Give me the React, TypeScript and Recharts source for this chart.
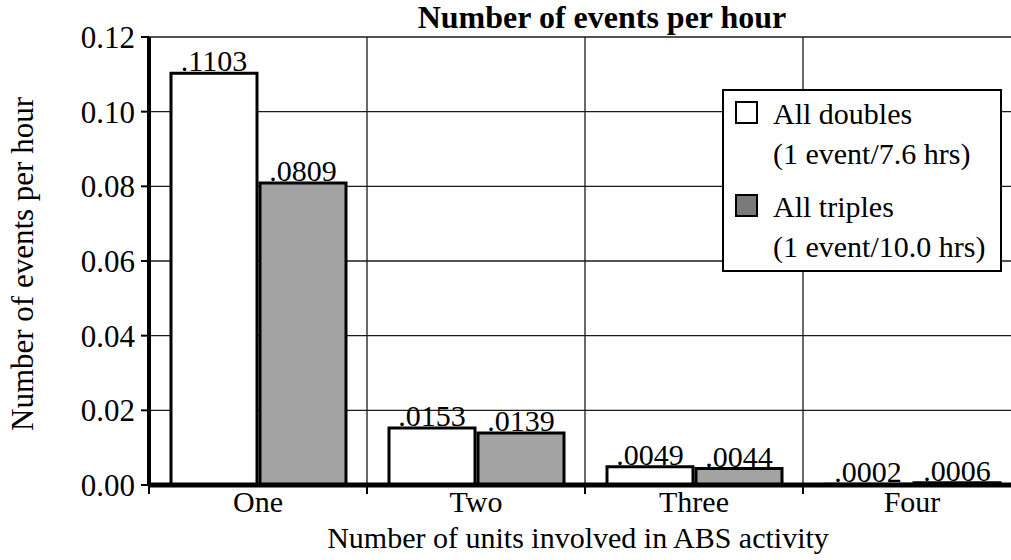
import { Bar, BarChart, CartesianGrid, LabelList, Legend, XAxis, YAxis } from "recharts";

const categories = ["One", "Two", "Three", "Four"];
const doubles = [0.1103, 0.0153, 0.0049, 0.0002];
const triples = [0.0809, 0.0139, 0.0044, 0.0006];
const yTicks = [0, 0.02, 0.04, 0.06, 0.08, 0.1, 0.12];
const seriesLabels = [
  ["All doubles", "(1 event/7.6 hrs)"],
  ["All triples", "(1 event/10.0 hrs)"],
];

const title = "Number of events per hour";
const xTitle = "Number of units involved in ABS activity";
const yTitle = "Number of events per hour";

const data = categories.map((category, i) => ({
  category,
  doubles: doubles[i],
  triples: triples[i],
}));

const FONT = "Liberation Serif, Times New Roman, serif";
const CHART_W = 1025;
const CHART_H = 560;
const MARGIN = { top: 37, right: 4, bottom: 0, left: 0 };
const Y_AXIS_W = 149;
const BAND = (CHART_W - MARGIN.left - MARGIN.right - Y_AXIS_W) / categories.length;
const GRAY = "#a3a3a3";

/** .1103 style: four decimals, no leading zero. */
const fmt = (v: unknown) => Number(v).toFixed(4).replace(/^0/, "");

function CategoryTick(props: any) {
  const { x, y, payload, index } = props;
  const edge = x - BAND / 2;
  return (
    <g>
      <line x1={edge} y1={y} x2={edge} y2={y + 9} stroke="#000" strokeWidth={2} />
      {index === categories.length - 1 && (
        <line x1={x + BAND / 2} y1={y} x2={x + BAND / 2} y2={y + 9} stroke="#000" strokeWidth={2} />
      )}
      <text x={x} y={y + 27} textAnchor="middle" fontSize={30} fontFamily={FONT} fill="#000">
        {payload.value}
      </text>
    </g>
  );
}

function LegendBox() {
  const swatches = [
    { fill: "#fff", top: 10 },
    { fill: "#7a7a7a", top: 103 },
  ];
  return (
    <div
      style={{
        position: "relative",
        width: 280,
        height: 183,
        boxSizing: "border-box",
        border: "2.5px solid #000",
        background: "#fff",
        fontFamily: FONT,
        fontSize: 30,
        color: "#000",
        lineHeight: "40px",
      }}
    >
      {seriesLabels.map((lines, i) => (
        <div key={lines[0]}>
          <span
            style={{
              position: "absolute",
              left: 11,
              top: swatches[i].top,
              width: 19,
              height: 19,
              border: "2px solid #000",
              background: swatches[i].fill,
            }}
          />
          <div style={{ position: "absolute", left: 49, top: i === 0 ? 3 : 96, whiteSpace: "nowrap" }}>
            {lines.map((l) => (
              <div key={l}>{l}</div>
            ))}
          </div>
        </div>
      ))}
    </div>
  );
}

export default function App() {
  return (
    <div
      style={{
        position: "absolute",
        left: 0,
        top: 0,
        width: 1011,
        height: CHART_H,
        overflow: "hidden",
        background: "#fff",
      }}
    >
      <div
        style={{
          position: "absolute",
          left: 402,
          top: 2,
          width: 400,
          textAlign: "center",
          fontFamily: FONT,
          fontWeight: "bold",
          fontSize: 32,
          lineHeight: "30px",
          zIndex: 2,
        }}
      >
        {title}
      </div>
      <BarChart
        width={CHART_W}
        height={CHART_H}
        data={data}
        margin={MARGIN}
        barCategoryGap={22}
        barGap={3}
      >
        <CartesianGrid
          stroke="#1a1a1a"
          strokeWidth={1.3}
          verticalCoordinatesGenerator={({ offset }: any) =>
            categories.map((_, i) => offset.left + (offset.width * (i + 1)) / categories.length)
          }
        />
        <XAxis
          dataKey="category"
          height={75}
          axisLine={{ stroke: "#000", strokeWidth: 5 }}
          tickLine={false}
          tickSize={0}
          tickMargin={0}
          interval={0}
          tick={<CategoryTick />}
          label={{
            value: xTitle,
            content: ({ viewBox }: any) => (
              <text
                x={viewBox.x + viewBox.width / 2 - 7}
                y={viewBox.y + 63}
                textAnchor="middle"
                fontSize={30}
                fontFamily={FONT}
                fill="#000"
              >
                {xTitle}
              </text>
            ),
          }}
        />
        <YAxis
          width={Y_AXIS_W}
          domain={[0, 0.12]}
          ticks={yTicks}
          interval={0}
          tickFormatter={(v: number) => v.toFixed(2)}
          axisLine={{ stroke: "#000", strokeWidth: 4 }}
          tickLine={{ stroke: "#000", strokeWidth: 2 }}
          tickSize={8}
          tickMargin={6}
          tick={{ fontSize: 31, fontFamily: FONT, fill: "#000" }}
          label={{
            value: yTitle,
            content: ({ viewBox }: any) => {
              const cx = 22;
              const cy = viewBox.y + viewBox.height / 2 + 3;
              return (
                <text
                  x={cx}
                  y={cy}
                  transform={`rotate(-90 ${cx} ${cy})`}
                  textAnchor="middle"
                  dominantBaseline="central"
                  fontSize={31}
                  fontFamily={FONT}
                  fill="#000"
                >
                  {yTitle}
                </text>
              );
            },
          }}
        />
        <Legend
          layout="horizontal"
          verticalAlign="middle"
          align="center"
          content={<LegendBox />}
          wrapperStyle={{ left: 722, top: 89, width: 280, height: 183 }}
        />
        <Bar dataKey="doubles" fill="#fff" stroke="#000" strokeWidth={3} isAnimationActive={false}>
          <LabelList
            dataKey="doubles"
            position="top"
            offset={2}
            formatter={fmt}
            style={{ fontSize: 30, fontFamily: FONT, fill: "#000" }}
          />
        </Bar>
        <Bar dataKey="triples" fill={GRAY} stroke="#000" strokeWidth={3} isAnimationActive={false}>
          <LabelList
            dataKey="triples"
            position="top"
            offset={2}
            formatter={fmt}
            style={{ fontSize: 30, fontFamily: FONT, fill: "#000" }}
          />
        </Bar>
      </BarChart>
    </div>
  );
}
